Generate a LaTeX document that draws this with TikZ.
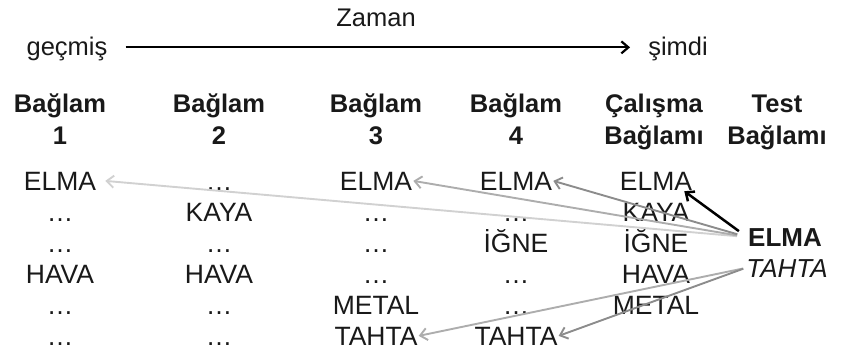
\documentclass[tikz,border=0pt]{standalone}
\usepackage{fontspec}
\setmainfont{Liberation Sans}
\usetikzlibrary{arrows.meta}
\colorlet{nearGray}{black!45}
\colorlet{midGray}{black!32}
\colorlet{farGray}{black!18}

\begin{document}
\begin{tikzpicture}[
  x=1bp, y=-1bp,
  >={Straight Barb[length=7bp,width=12bp]},
  every node/.style={inner sep=1pt, anchor=base, text=black!90,
    font=\fontsize{26.5bp}{31bp}\selectfont},
  head/.style={align=center, font=\fontsize{25.5bp}{32bp}\selectfont\bfseries},
  link/.style={->, line width=1.9bp}
]
  \useasboundingbox (0,0) rectangle (842,363);
  % zaman ekseni
  \node[font=\fontsize{25.5bp}{30bp}\selectfont] (zaman) at (376,26) {Zaman};
  \node[font=\fontsize{25.5bp}{30bp}\selectfont] (past) at (67,55) {geçmiş};
  \node[font=\fontsize{25.5bp}{30bp}\selectfont] (now) at (678,55) {şimdi};
  \draw[link, black, line width=2.2bp, shorten <=17bp, shorten >=17bp]
    ([yshift=5bp]past.mid east) -- ([yshift=5bp]now.mid west);
  % basliklar (base = son satir)
  \foreach \x/\lab [count=\c] in {60/{Bağlam\\1}, 219/{Bağlam\\2}, 376/{Bağlam\\3},
      516/{Bağlam\\4}, 654/{Çalışma\\Bağlamı}, 777/{Test\\Bağlamı}}
    \node[head] (h\c) at (\x,144) {\lab};
  % baglam sutunlari
  \foreach \x/\list [count=\c] in {60/{ELMA,…,…,HAVA,…,…}, 219/{…,KAYA,…,HAVA,…,…},
      376/{ELMA,…,…,…,METAL,TAHTA}, 516/{ELMA,…,İĞNE,…,…,TAHTA},
      656/{ELMA,KAYA,İĞNE,HAVA,METAL}}
    \foreach \w [count=\r] in \list
      \node (c\c r\r) at (\x,159+31*\r) {\w};
  % test baglami
  \node[font=\fontsize{26bp}{30bp}\selectfont\bfseries] (tElma) at (785,246) {ELMA};
  \node[font=\fontsize{26bp}{30bp}\selectfont\itshape] (tTahta) at (787,277) {TAHTA};
  % geri getirme oklari
  \draw[link, farGray, shorten <=10bp] (tElma.west) -- ([xshift=8bp]c1r1.east);
  \draw[link, midGray, shorten <=10bp] (tElma.west) -- (c3r1.east);
  \draw[link, nearGray, shorten <=10bp] (tElma.west) -- (c4r1.east);
  \draw[link, black, line width=2.5bp, shorten <=10bp] (tElma.west) -- ([xshift=-9bp]c5r1.south east);
  \draw[link, midGray, shorten <=2bp] (tTahta.west) -- (c3r6.east);
  \draw[link, nearGray, shorten <=2bp] (tTahta.west) -- (c4r6.east);
\end{tikzpicture}
\end{document}
